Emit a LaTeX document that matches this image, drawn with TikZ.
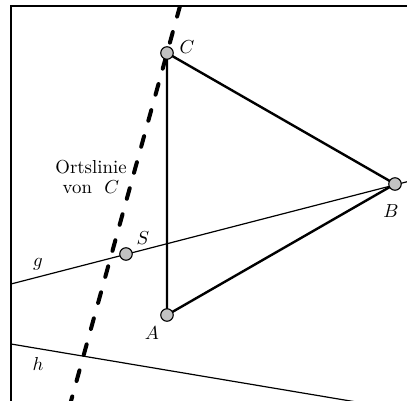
\documentclass[tikz,border=0pt]{standalone}
\usepackage{graphicx}
\newcommand{\bigtxt}[1]{\scalebox{1.88}{#1}}
\begin{document}
\begin{tikzpicture}[x=1pt,y=-1pt,
  pt/.style={circle,draw=black,line width=1.1pt,fill=ptgray,minimum size=12.5pt,inner sep=0pt},
  side/.style={line width=2.4pt},
  thinline/.style={line width=1.2pt},
  locus/.style={line width=4pt,line cap=round,dash pattern=on 11pt off 16pt},
  lab/.style={inner sep=0pt},
  frameline/.style={line width=1.4pt}]
\definecolor{ptgray}{HTML}{C2C2C2}
\useasboundingbox (0,0) rectangle (407,401);
% frame
\coordinate (F1) at (11,401);
\coordinate (F2) at (11,6);
\coordinate (F3) at (407,6);
% points
\coordinate (Cc) at (167,53);
\coordinate (Ac) at (167,315);
\coordinate (Bc) at (395,184);
\coordinate (Sc) at (126,254);
\coordinate (g0) at (11,284);
\coordinate (g1) at (410,181);
\coordinate (h0) at (11,344);
\coordinate (h1) at (410,411);
\coordinate (L0) at (180,6);
\coordinate (L1) at (68,412);
\begin{scope}
\clip (11,6) rectangle (407,401);
\draw[thinline] (g0) -- (g1);
\draw[thinline] (h0) -- (h1);
\draw[locus] (L0) -- (L1);
\draw[side] (Cc) -- (Ac) -- (Bc) -- cycle;
\end{scope}
\draw[frameline] (F1) -- (F2) -- (F3);
\node[pt] (C) at (Cc) {};
\node[pt] (A) at (Ac) {};
\node[pt] (B) at (Bc) {};
\node[pt] (S) at (Sc) {};
% labels
\node[lab] (lC) at (187,47) {\bigtxt{$C$}};
\node[lab] (lA) at (152,333) {\bigtxt{$A$}};
\node[lab] (lB) at (391,211) {\bigtxt{$B$}};
\node[lab] (lS) at (143,238) {\bigtxt{$S$}};
\node[lab] (lg) at (38,264) {\bigtxt{$g$}};
\node[lab] (lh) at (38,364) {\bigtxt{$h$}};
\node[lab] (lort) at (91,179) {\bigtxt{\begin{tabular}{@{}c@{}}Ortslinie\\[-1pt]von~ $C$\end{tabular}}};
\end{tikzpicture}
\end{document}
